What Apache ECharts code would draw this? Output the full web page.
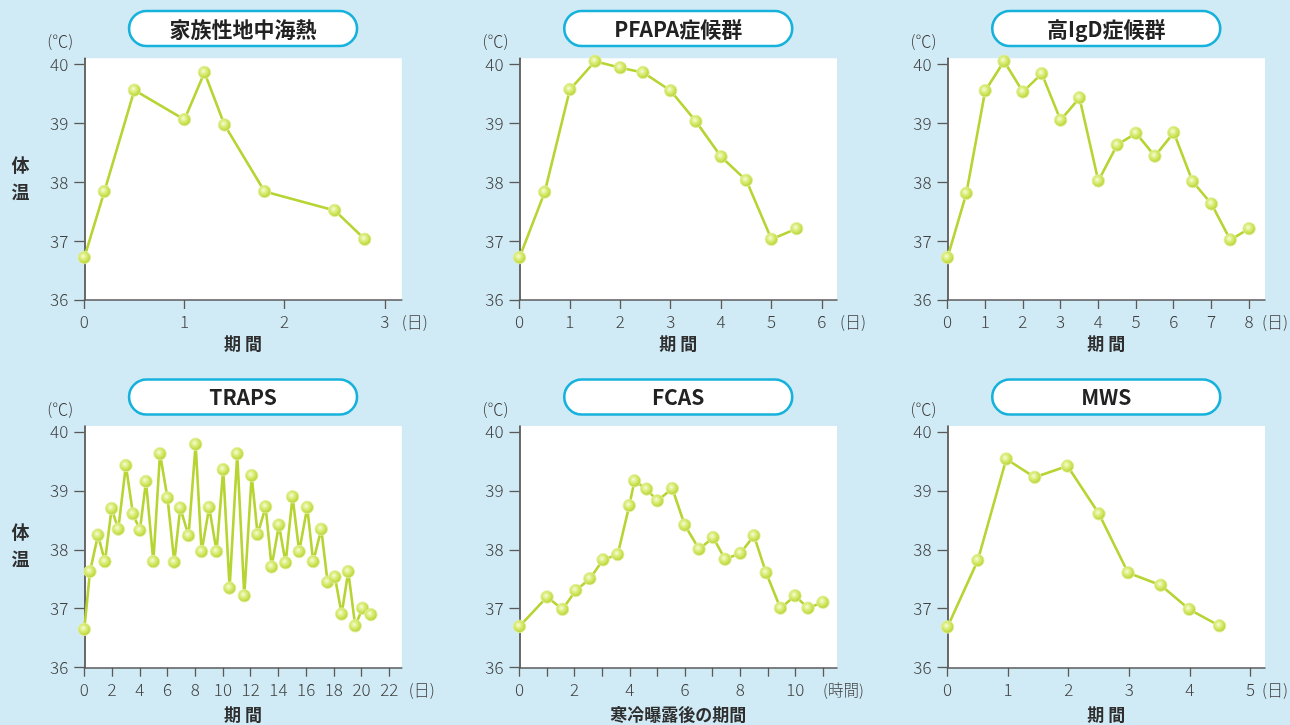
<!DOCTYPE html>
<html><head><meta charset="utf-8">
<script src="https://cdn.jsdelivr.net/npm/echarts@6/dist/echarts.min.js"></script>
<style>html,body{margin:0;padding:0;background:#d0ebf6;}#c{width:1290px;height:725px;}</style>
</head><body><div id="c"></div>
<script>
// ---- data ----
const yTicks = [36, 37, 38, 39, 40];

const flTitle = '家族性地中海熱';
const flX = [0, 0.2, 0.5, 1.0, 1.2, 1.4, 1.8, 2.5, 2.8];
const flY = [36.72, 37.84, 39.56, 39.06, 39.86, 38.97, 37.84, 37.52, 37.03];
const flTicks = [0, 1, 2, 3];
const flLabels = [0, 1, 2, 3];

const pfTitle = 'PFAPA症候群';
const pfX = [0, 0.5, 1, 1.5, 2, 2.45, 3, 3.5, 4, 4.5, 5, 5.5];
const pfY = [36.72, 37.83, 39.57, 40.05, 39.94, 39.86, 39.55, 39.03, 38.43, 38.03, 37.03, 37.21];
const pfTicks = [0, 1, 2, 3, 4, 5, 6];
const pfLabels = [0, 1, 2, 3, 4, 5, 6];

const hgTitle = '高IgD症候群';
const hgX = [0, 0.5, 1, 1.5, 2, 2.5, 3, 3.5, 4, 4.5, 5, 5.5, 6, 6.5, 7, 7.5, 8];
const hgY = [36.72, 37.81, 39.55, 40.05, 39.53, 39.84, 39.05, 39.43, 38.02, 38.63, 38.83, 38.44, 38.84, 38.01, 37.63, 37.02, 37.21];
const hgTicks = [0, 1, 2, 3, 4, 5, 6, 7, 8];
const hgLabels = [0, 1, 2, 3, 4, 5, 6, 7, 8];

const trTitle = 'TRAPS';
const trX = [0, 0.41, 0.99, 1.49, 1.97, 2.45, 3.0, 3.51, 4.01, 4.45, 4.98, 5.46, 6.0, 6.49, 6.92, 7.52, 8.03, 8.46, 9.01, 9.54, 10.02, 10.48, 11.03, 11.54, 12.07, 12.5, 13.08, 13.51, 14.04, 14.52, 15.02, 15.5, 16.08, 16.51, 17.09, 17.55, 18.08, 18.56, 19.04, 19.54, 20.07, 20.67];
const trY = [36.65, 37.63, 38.25, 37.80, 38.70, 38.35, 39.43, 38.61, 38.33, 39.16, 37.80, 39.63, 38.88, 37.79, 38.71, 38.24, 39.79, 37.97, 38.72, 37.97, 39.36, 37.35, 39.63, 37.22, 39.26, 38.26, 38.73, 37.71, 38.42, 37.78, 38.90, 37.97, 38.72, 37.80, 38.35, 37.45, 37.54, 36.91, 37.63, 36.71, 37.01, 36.90];
const trTicks = [0, 2, 4, 6, 8, 10, 12, 14, 16, 18, 20, 22];
const trLabels = [0, 2, 4, 6, 8, 10, 12, 14, 16, 18, 20, 22];

const fcTitle = 'FCAS';
const fcX = [0, 1, 1.56, 2.04, 2.55, 3.03, 3.56, 3.98, 4.17, 4.61, 5.0, 5.54, 5.99, 6.51, 7.02, 7.45, 8.01, 8.5, 8.94, 9.46, 9.99, 10.46, 11.0];
const fcY = [36.70, 37.20, 36.99, 37.31, 37.51, 37.83, 37.92, 38.75, 39.17, 39.03, 38.83, 39.04, 38.42, 38.01, 38.21, 37.84, 37.94, 38.24, 37.61, 37.01, 37.22, 37.01, 37.11];
const fcTicks = [0, 1, 2, 3, 4, 5, 6, 7, 8, 9, 10, 11];
const fcLabels = [0, 2, 4, 6, 8, 10];

const mwTitle = 'MWS';
const mwX = [0, 0.5, 0.97, 1.44, 1.98, 2.5, 2.98, 3.52, 3.99, 4.49];
const mwY = [36.69, 37.82, 39.54, 39.23, 39.42, 38.61, 37.61, 37.40, 36.99, 36.71];
const mwTicks = [0, 1, 2, 3, 4, 5];
const mwLabels = [0, 1, 2, 3, 4, 5];

const dayName = '期 間';
const fcName = '寒冷曝露後の期間';
const dayUnit = '(日)';
const hourUnit = '(時間)';
const tempUnit = '(℃)';
const tempName = '体\n温';

// ---- layout ----
const rowTop = [58.3, 426];
const gridH = 241.7;
const gridW = 317.5;
const colLeft = [84.3, 519.5, 947.5];
const pillY = [11, 379.5];
const nameGaps = [35, 38];

const panels = [
  {title: flTitle, x: flX, y: flY, ticks: flTicks, labels: flLabels, name: dayName, unit: dayUnit, row: 0, col: 0, xmax: 3.17, unitDx: 0, unitSize: 16},
  {title: pfTitle, x: pfX, y: pfY, ticks: pfTicks, labels: pfLabels, name: dayName, unit: dayUnit, row: 0, col: 1, xmax: 6.30, unitDx: 3, unitSize: 16},
  {title: hgTitle, x: hgX, y: hgY, ticks: hgTicks, labels: hgLabels, name: dayName, unit: dayUnit, row: 0, col: 2, xmax: 8.42, unitDx: -3, unitSize: 16},
  {title: trTitle, x: trX, y: trY, ticks: trTicks, labels: trLabels, name: dayName, unit: dayUnit, row: 1, col: 0, xmax: 22.9, unitDx: 7, unitSize: 16},
  {title: fcTitle, x: fcX, y: fcY, ticks: fcTicks, labels: fcLabels, name: fcName, unit: hourUnit, row: 1, col: 1, xmax: 11.51, unitDx: -14, unitSize: 15.5},
  {title: mwTitle, x: mwX, y: mwY, ticks: mwTicks, labels: mwLabels, name: dayName, unit: dayUnit, row: 1, col: 2, xmax: 5.24, unitDx: -3, unitSize: 16}
];

const FONT = '"Noto Sans CJK JP", "Noto Sans", sans-serif';
const lineColor = '#b6d432';
const axisColor = '#3a3a3a';
const labelColor = '#404040';

const markerFill = {
  type: 'radial', x: 0.42, y: 0.4, r: 0.6,
  colorStops: [
    {offset: 0, color: '#f6fbd8'},
    {offset: 0.45, color: '#d8eb70'},
    {offset: 1, color: '#b4d02e'}
  ]
};

const grids = [], xAxes = [], yAxes = [], series = [], graphics = [];

panels.forEach((p, i) => {
  const left = colLeft[p.col], top = rowTop[p.row];
  grids.push({left: left, top: top, width: gridW, height: gridH, show: true,
    backgroundColor: '#ffffff', borderWidth: 0, containLabel: false});
  xAxes.push({
    type: 'value', gridIndex: i, min: 0, max: p.xmax,
    name: p.name, nameLocation: 'middle', nameGap: nameGaps[p.row],
    nameTextStyle: {fontFamily: FONT, fontSize: 17, fontWeight: 'bold', color: '#2e2e2e'},
    axisLine: {show: true, onZero: false, lineStyle: {color: '#5a5a5a', width: 1.5}},
    axisTick: {show: true, customValues: p.ticks, length: 9, lineStyle: {color: '#5a5a5a', width: 1.3}},
    axisLabel: {show: true, customValues: p.labels, margin: 13, fontFamily: FONT, fontSize: 17, fontWeight: 300, color: labelColor},
    splitLine: {show: false}
  });
  yAxes.push({
    type: 'value', gridIndex: i, min: 36, max: 40.1,
    axisLine: {show: true, onZero: false, lineStyle: {color: axisColor, width: 1.5}},
    axisTick: {show: true, customValues: yTicks, length: 10, lineStyle: {color: '#5a5a5a', width: 1.3}},
    axisLabel: {show: true, customValues: yTicks, margin: 16, fontFamily: FONT, fontSize: 17, fontWeight: 300, color: labelColor},
    splitLine: {show: false}
  });
  series.push({
    type: 'line', xAxisIndex: i, yAxisIndex: i,
    data: p.x.map((v, k) => [v, p.y[k]]),
    symbol: 'circle', symbolSize: 12.5, showSymbol: true,
    lineStyle: {color: lineColor, width: 2.6},
    itemStyle: {color: markerFill, borderColor: 'rgba(225,240,160,0.9)', borderWidth: 1},
    emphasis: {disabled: true}, z: 3
  });
  const axisY = top + gridH;
  const cx = left + gridW / 2;
  // title pill
  graphics.push({type: 'rect', shape: {x: cx - 114, y: pillY[p.row], width: 228, height: 35, r: 17.5},
    style: {fill: '#ffffff', stroke: '#17b2dc', lineWidth: 2.6}, z: 10});
  graphics.push({type: 'text', x: cx, y: pillY[p.row] + 18, z: 11,
    style: {text: p.title, fill: '#222', font: 'bold 21px ' + FONT, textAlign: 'center', textVerticalAlign: 'middle'}});
  // unit (℃)
  graphics.push({type: 'text', x: left - 24, y: top - 17, z: 11,
    style: {text: tempUnit, fill: labelColor, font: '300 16px ' + FONT, textAlign: 'center', textVerticalAlign: 'middle'}});
  // x unit
  graphics.push({type: 'text', x: left + gridW + p.unitDx, y: axisY + 22, z: 11,
    style: {text: p.unit, fill: labelColor, font: '300 ' + p.unitSize + 'px ' + FONT, textAlign: 'left', textVerticalAlign: 'middle'}});
  if (p.col === 0) {
    graphics.push({type: 'text', x: 20.5, y: top + 120, z: 11,
      style: {text: tempName, fill: '#2e2e2e', font: 'bold 18px ' + FONT, textAlign: 'center', textVerticalAlign: 'middle', lineHeight: 27}});
  }
});

const chart = echarts.init(document.getElementById('c'), null, {renderer: 'canvas'});
chart.setOption({
  backgroundColor: '#d0ebf6',
  animation: false,
  grid: grids,
  xAxis: xAxes,
  yAxis: yAxes,
  series: series,
  graphic: graphics
});
</script>
</body></html>
